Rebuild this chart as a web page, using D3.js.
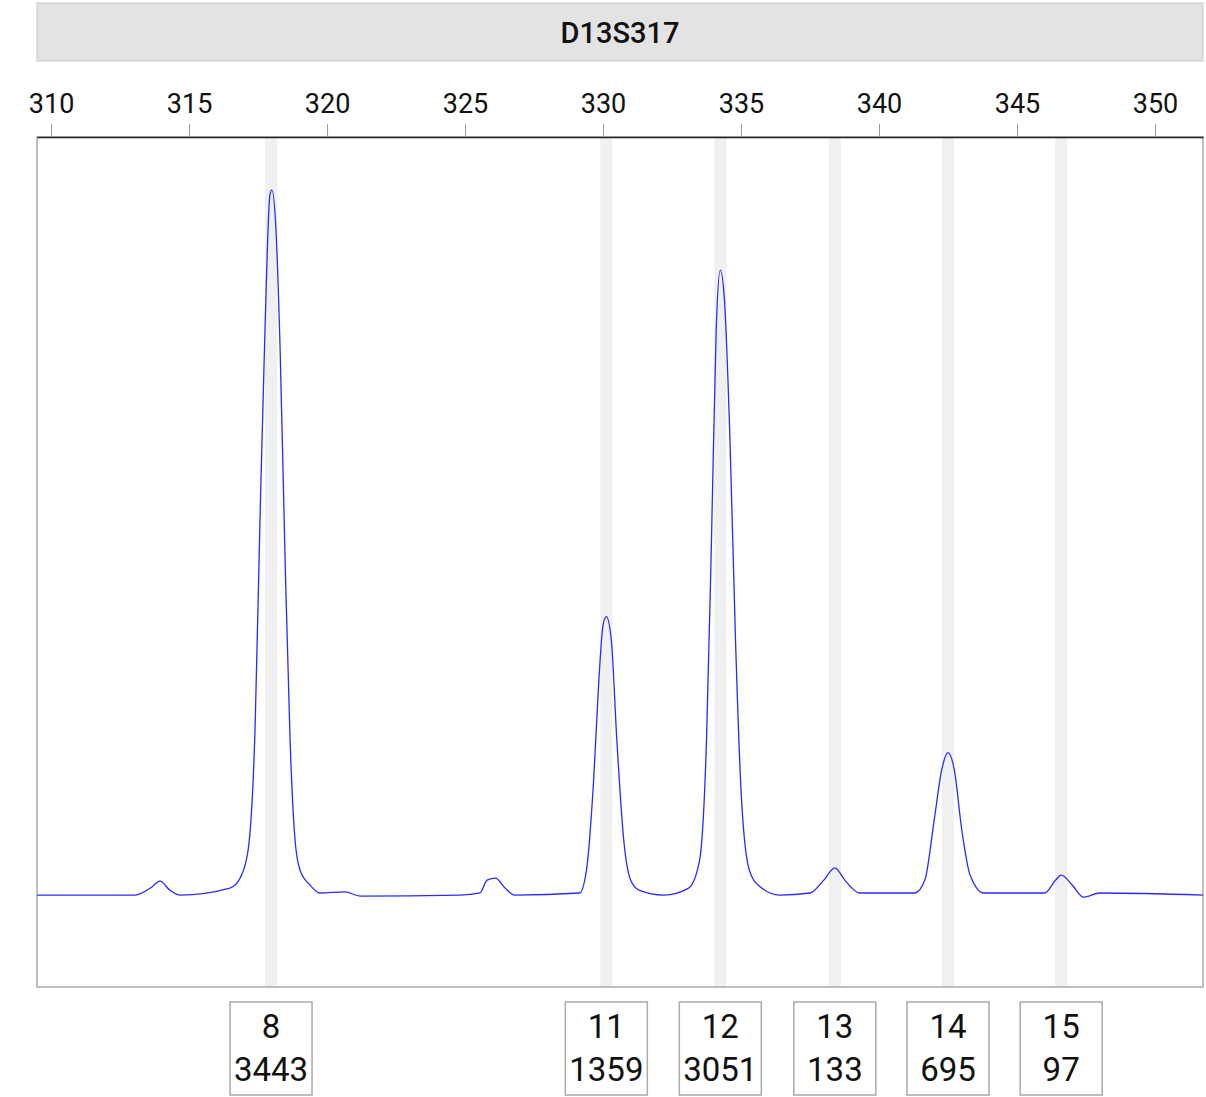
<!DOCTYPE html>
<html><head><meta charset="utf-8">
<script src="https://cdn.jsdelivr.net/npm/d3@7"></script>
<style>body{margin:0;background:#fff;font-family:Roboto,sans-serif}</style>
</head><body><svg id="chart" width="1206" height="1097"></svg>
<script>
const markerName = "D13S317";
const sizeTicks = [310, 315, 320, 325, 330, 335, 340, 345, 350];
// allele calls: label, size (bp), height (RFU)
const alleleLabels = ["8", "11", "12", "13", "14", "15"];
const alleleSizes = [317.97, 330.12, 334.25, 338.4, 342.5, 346.6];
const alleleHeights = [3443, 1359, 3051, 133, 695, 97];
// trace: size (bp), signal (RFU)
const traceSize = [309.5, 311.8, 313.05, 313.6, 313.95, 314.3, 314.67, 316.48, 316.85, 317.14, 317.39, 317.57, 317.75, 317.93, 318.0, 318.15, 318.3, 318.48, 318.66, 318.84, 319.02, 319.38, 319.74, 320.65, 321.2, 324.82, 325.54, 325.8, 326.1, 326.45, 326.8, 329.15, 329.4, 329.66, 329.85, 330.0, 330.12, 330.3, 330.5, 330.75, 331.0, 331.3, 332.2, 333.1, 333.5, 333.75, 333.93, 334.1, 334.25, 334.4, 334.6, 334.8, 335.0, 335.3, 335.66, 336.4, 337.5, 338.0, 338.4, 338.76, 339.3, 341.3, 341.66, 342.0, 342.27, 342.5, 342.73, 343.0, 343.3, 343.8, 346.0, 346.4, 346.6, 347.0, 347.4, 348.0, 351.74];
const traceRfu = [0, 0, 0, 34, 68, 24, 0, 34, 83, 220, 806, 1831, 2759, 3418, 3443, 3247, 2661, 1636, 757, 269, 122, 49, 10, 15, -5, 0, 10, 73, 83, 34, 0, 10, 122, 562, 1050, 1318, 1359, 1245, 757, 269, 73, 24, 0, 34, 171, 757, 1733, 2759, 3051, 2905, 2222, 1245, 513, 122, 44, 0, 10, 73, 133, 73, 10, 10, 73, 366, 610, 695, 610, 317, 98, 10, 10, 73, 97, 49, -10, 10, 0];

const svg = d3.select("#chart");
const L = 37, R = 1203, T = 137, B = 987;
const x = d3.scaleLinear().domain([309.49, 351.74]).range([L, R]);
const y = d3.scaleLinear().domain([-449, 3701]).range([B, T]);

// header strip
svg.append("rect").attr("x", L).attr("y", 3).attr("width", R - L).attr("height", 58)
  .attr("fill", "#e3e3e3").attr("stroke", "#c8c8c8");
svg.append("text").attr("x", (L + R) / 2).attr("y", 43).attr("text-anchor", "middle")
  .attr("font-size", 29).attr("font-weight", 500).attr("fill", "#111").text(markerName);

// bins
svg.selectAll(".bin").data(alleleSizes).enter().append("rect")
  .attr("x", d => x(d) - 6).attr("y", T).attr("width", 12).attr("height", B - T)
  .attr("fill", "#f0f0f0");

// frame
svg.append("rect").attr("x", L).attr("y", T).attr("width", R - L).attr("height", B - T)
  .attr("fill", "none").attr("stroke", "#aaa").attr("stroke-width", 1.5);

// top axis
const ax = svg.append("g").attr("transform", `translate(0,${T})`)
  .call(d3.axisTop(x).tickValues(sizeTicks).tickSize(13).tickSizeOuter(0));
ax.select(".domain").attr("stroke", "#222").attr("stroke-width", 1.5);
ax.selectAll(".tick line").attr("stroke", "#999");
ax.selectAll("text").attr("font-size", 27).attr("font-family", "Roboto").attr("fill", "#111").attr("dy", "-0.3em");

// trace
const line = d3.line().x(d => x(d[0])).y(d => y(d[1])).curve(d3.curveMonotoneX);
svg.append("path").datum(d3.zip(traceSize, traceRfu)).attr("d", line)
  .attr("fill", "none").attr("stroke", "#2a2aff").attr("stroke-width", 1.3);

// allele label boxes
const g = svg.selectAll(".lab").data(d3.range(alleleLabels.length)).enter().append("g")
  .attr("transform", i => `translate(${x(alleleSizes[i])},1002)`);
g.append("rect").attr("x", -41).attr("width", 82).attr("height", 93)
  .attr("fill", "#fff").attr("stroke", "#aaa").attr("stroke-width", 1.5);
g.append("text").attr("y", 36).attr("text-anchor", "middle").attr("font-size", 33)
  .attr("fill", "#111").text(i => alleleLabels[i]);
g.append("text").attr("y", 79).attr("text-anchor", "middle").attr("font-size", 33)
  .attr("fill", "#111").text(i => alleleHeights[i]);
</script></body></html>
